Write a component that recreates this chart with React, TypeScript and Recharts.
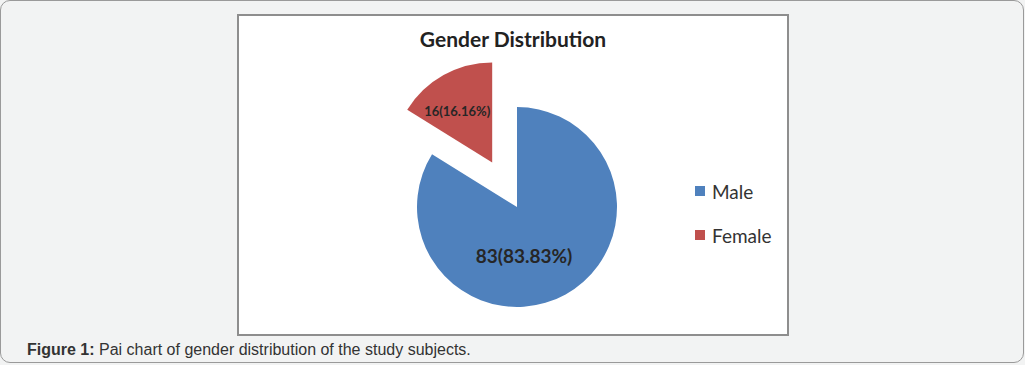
import React from "react";
import { PieChart, Pie, Cell, Legend } from "recharts";

const categories = ["Male", "Female"];
const counts = [83, 16];
const percents = ["83.83%", "16.16%"];
const colors = ["#4f81bd", "#c0504d"];

const genderData = categories.map((name, i) => ({
  name,
  value: counts[i],
  pct: percents[i],
}));

const total = counts.reduce((a, b) => a + b, 0);
// pull the female slice out along its middle angle
const femaleMid = ((90 + (counts[1] / total) * 360 / 2) * Math.PI) / 180;
const explode = 51;
const CX = 517;
const CY = 207;
const R = 100;
const femaleCx = CX + Math.cos(femaleMid) * explode;
const femaleCy = CY - Math.sin(femaleMid) * explode;

const FONT = "Lato, 'Open Sans', sans-serif";

const makeLabel = (which: number) => (props: any) => {
  const { cx, cy, index, payload } = props;
  if (index !== which) return null;
  const big = which === 0;
  const x = big ? cx + 7 : cx - 35;
  const y = big ? cy + 48 : cy - 51;
  return (
    <text
      x={x}
      y={y}
      textAnchor="middle"
      dominantBaseline="central"
      fill="#262626"
      fontFamily={FONT}
      fontWeight={700}
      fontSize={big ? 19 : 13}
    >
      {`${payload.value}(${payload.pct})`}
    </text>
  );
};

const renderLegend = (props: any) => {
  const seen = new Set<string>();
  const items = (props.payload || [])
    .filter((p: any) => {
      if (seen.has(p.value)) return false;
      seen.add(p.value);
      return true;
    })
    .sort(
      (a: any, b: any) => categories.indexOf(a.value) - categories.indexOf(b.value)
    );
  return (
    <div>
      {items.map((p: any) => (
        <div
          key={p.value}
          style={{ display: "flex", alignItems: "center", height: 44 }}
        >
          <span
            style={{
              width: 10,
              height: 10,
              background: colors[categories.indexOf(p.value)],
              marginRight: 7,
            }}
          />
          <span style={{ fontFamily: FONT, fontSize: 19, color: "#333" }}>
            {p.value}
          </span>
        </div>
      ))}
    </div>
  );
};

export default function App() {
  return (
    <div
      style={{
        position: "absolute",
        left: 0,
        top: 0,
        width: 1025,
        height: 365,
        background: "#f2f3f3",
        overflow: "hidden",
      }}
    >
      <div
        style={{
          position: "absolute",
          left: 0,
          top: 0,
          width: 1024,
          height: 363,
          border: "1.5px solid #9a9a9a",
          borderRadius: 10,
          boxSizing: "border-box",
        }}
      />
      <div
        style={{
          position: "absolute",
          left: 237,
          top: 14,
          width: 552,
          height: 322,
          background: "#fff",
          border: "2px solid #8e8e8e",
          boxSizing: "border-box",
        }}
      />
      <div
        style={{
          position: "absolute",
          left: 237,
          width: 552,
          top: 26,
          textAlign: "center",
          fontFamily: FONT,
          fontWeight: 700,
          fontSize: 21,
          color: "#222",
        }}
      >
        Gender Distribution
      </div>
      <div style={{ position: "absolute", left: 0, top: 0 }}>
        <PieChart
          width={1025}
          height={365}
          margin={{ top: 0, right: 0, bottom: 0, left: 0 }}
        >
          <Pie
            data={genderData}
            dataKey="value"
            nameKey="name"
            cx={CX}
            cy={CY}
            outerRadius={R}
            startAngle={90}
            endAngle={-270}
            stroke="none"
            label={makeLabel(0)}
            labelLine={false}
            isAnimationActive={false}
          >
            {genderData.map((d, i) => (
              <Cell key={d.name} fill={i === 0 ? colors[0] : "none"} />
            ))}
          </Pie>
          <Pie
            data={genderData}
            dataKey="value"
            nameKey="name"
            cx={femaleCx}
            cy={femaleCy}
            outerRadius={R}
            startAngle={90}
            endAngle={-270}
            stroke="none"
            label={makeLabel(1)}
            labelLine={false}
            legendType="none"
            isAnimationActive={false}
          >
            {genderData.map((d, i) => (
              <Cell key={d.name} fill={i === 1 ? colors[1] : "none"} />
            ))}
          </Pie>
          <Legend
            layout="vertical"
            content={renderLegend}
            wrapperStyle={{ position: "absolute", left: 695, top: 169, width: 100 }}
          />
        </PieChart>
      </div>
      <div
        style={{
          position: "absolute",
          left: 27,
          top: 341,
          fontFamily: "'Liberation Sans', Arial, sans-serif",
          fontSize: 16,
          color: "#333",
          whiteSpace: "nowrap",
        }}
      >
        <b>Figure 1:</b> Pai chart of gender distribution of the study subjects.
      </div>
    </div>
  );
}
